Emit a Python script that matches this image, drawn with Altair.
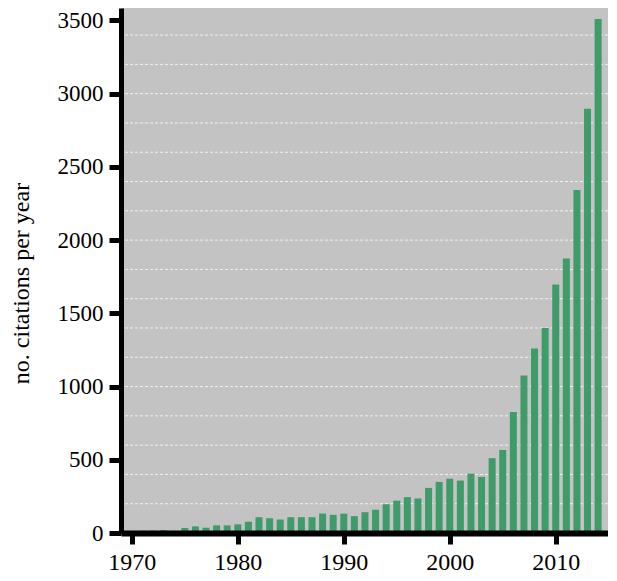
import altair as alt
import pandas as pd

years = list(range(1970, 2015))
citations = [15, 15, 16, 20, 15, 34, 45, 36, 52, 52,
             59, 77, 108, 101, 92, 108, 108, 108, 133, 124,
             132, 115, 142, 158, 196, 221, 245, 236, 308, 349,
             371, 358, 405, 383, 511, 567, 826, 1076, 1260, 1400,
             1697, 1875, 2343, 2897, 3510]
y_ticks = [0, 500, 1000, 1500, 2000, 2500, 3000, 3500]
grid_values = list(range(200, 3600, 200))
x_ticks = [1970, 1980, 1990, 2000, 2010]

df = pd.DataFrame({"year": years, "citations": citations})
grid_df = pd.DataFrame({"citations": grid_values})

FONT = "Liberation Serif, Times New Roman, Times, serif"
yscale = alt.Scale(domain=[0, 3585], nice=False, zero=True)
xscale = alt.Scale(domain=[1969.45, 2014.46], nice=False, zero=False)

yaxis = alt.Axis(values=y_ticks, format="d", grid=False, title="no. citations per year",
                 domainColor="black", domainWidth=5,
                 tickColor="black", tickWidth=5, tickSize=12,
                 labelFont=FONT, labelFontSize=23, labelColor="black",
                 labelPadding=6, zindex=1,
                 titleFont=FONT, titleFontSize=24, titleFontWeight="normal",
                 titleColor="black", titleX=-100, titleY=275,
                 titleAngle=-90, titleBaseline="middle", titleAlign="center")

grid = alt.Chart(grid_df).mark_rule(
    color="white", strokeDash=[3, 2], strokeWidth=1, opacity=0.75
).encode(y=alt.Y("citations:Q", scale=yscale, axis=yaxis))

bars = alt.Chart(df).mark_bar(size=7, color="#3f9b69").encode(
    x=alt.X("year:Q", scale=xscale,
            axis=alt.Axis(values=x_ticks, format="d", title=None, grid=False,
                          domainColor="black", domainWidth=6,
                          tickColor="black", tickWidth=5, tickSize=11,
                          labelFont=FONT, labelFontSize=24, labelColor="black",
                          labelPadding=6, labelFlush=False, zindex=1)),
    y=alt.Y("citations:Q", scale=yscale, axis=yaxis),
)

chart = alt.layer(grid, bars).properties(
    width=487, height=525,
    padding={"left": 113, "top": 0, "right": 0, "bottom": 40},
    autosize=alt.AutoSizeParams(type="none"),
).configure_view(fill="#c3c3c3", strokeWidth=0)

chart.save("out.html", embed_options={"renderer": "svg", "actions": False})
